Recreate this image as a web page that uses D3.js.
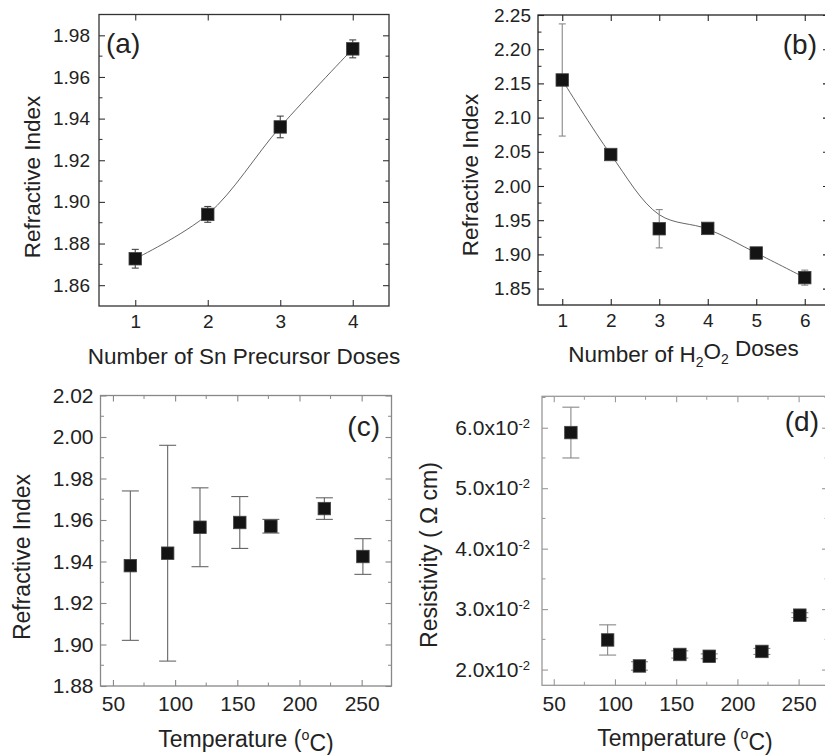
<!DOCTYPE html>
<html>
<head>
<meta charset="utf-8">
<script src="https://cdn.jsdelivr.net/npm/d3@7"></script>
<style>
  body { margin: 0; background: #fff; }
  svg { display: block; font-family: "Liberation Sans", Arial, sans-serif; }
  .axis path { display: none; }
  .axis text { fill: #222; }
</style>
</head>
<body>
<svg width="825" height="755"></svg>
<script>
// (a) refractive index vs Sn precursor doses
const snDoses = [1, 2, 3, 4];
const snIndex = [1.8727, 1.894, 1.936, 1.9735];
const snErr = [0.0045, 0.0038, 0.0052, 0.0043];
const snYTicks = [1.86, 1.88, 1.90, 1.92, 1.94, 1.96, 1.98];

// (b) refractive index vs H2O2 doses
const h2o2Doses = [1, 2, 3, 4, 5, 6];
const h2o2Index = [2.155, 2.046, 1.9375, 1.938, 1.902, 1.866];
const h2o2Err = [0.082, 0.004, 0.028, 0.003, 0.003, 0.011];
const h2o2Fit = [2.155, 2.046, 1.958, 1.937, 1.902, 1.866];
const h2o2YTicks = [1.85, 1.90, 1.95, 2.00, 2.05, 2.10, 2.15, 2.20, 2.25];

// (c) refractive index vs temperature
const tempC = [64, 94, 120, 152, 177, 220, 251];
const tempIndex = [1.938, 1.944, 1.9565, 1.9588, 1.957, 1.9655, 1.9424];
const tempIndexErr = [0.036, 0.052, 0.019, 0.0125, 0.0033, 0.0052, 0.0086];
const tempIndexYTicks = [1.88, 1.90, 1.92, 1.94, 1.96, 1.98, 2.00, 2.02];

// (d) resistivity vs temperature
const tempD = [64, 94, 120, 153, 177, 220, 251];
const resistivity = [0.0592, 0.0249, 0.0206, 0.0225, 0.0222, 0.0230, 0.0290];
const resistivityErr = [0.0042, 0.0025, 0.0007, 0.0006, 0.0004, 0.0005, 0.0004];
const resYTicks = [0.02, 0.03, 0.04, 0.05, 0.06];

const tempXTicks = [50, 100, 150, 200, 250];

const svg = d3.select("svg");

// midpoints between major ticks, plus one step beyond each end if inside the domain
const minorOf = (ticks, domain) => {
    const step = ticks[1] - ticks[0];
    const out = [];
    for (let v = ticks[0] - step / 2; v <= ticks[ticks.length - 1] + step / 2 + 1e-9; v += step) {
        if (v > domain[0] && v < domain[1]) out.push(v);
    }
    return out;
};

const drawPanel = (p) => {
    const x = d3.scaleLinear().domain(p.xDomain).range([p.left, p.right]);
    const y = d3.scaleLinear().domain(p.yDomain).range([p.bottom, p.top]);
    const g = svg.append("g");

    g.append("rect")
        .attr("x", p.left).attr("y", p.top)
        .attr("width", p.right - p.left).attr("height", p.bottom - p.top)
        .attr("fill", "none").attr("stroke", p.frame).attr("stroke-width", 1.3);

    const tickStyle = sel => sel.selectAll(".tick line").attr("stroke", p.frame).attr("stroke-width", 1.1);

    // major ticks with labels
    const xAx = g.append("g").attr("class", "axis")
        .attr("transform", "translate(0," + p.bottom + ")")
        .call(d3.axisBottom(x).tickValues(p.xTicks).tickSize(-6).tickPadding(p.xPad).tickFormat(d3.format("d")))
        .call(tickStyle);
    xAx.selectAll("text").attr("font-size", p.font + "px");

    const yAx = g.append("g").attr("class", "axis")
        .attr("transform", "translate(" + p.left + ",0)")
        .call(d3.axisLeft(y).tickValues(p.yTicks).tickSize(-6).tickPadding(p.yPad).tickFormat(p.yFormat))
        .call(tickStyle);
    yAx.selectAll("text").attr("font-size", p.font + "px");
    if (p.sup) {
        yAx.selectAll("text").append("tspan")
            .attr("dy", "-0.55em").attr("font-size", (p.font * 0.62) + "px").text(p.sup);
    }

    // mirrored ticks on top and right
    g.append("g").attr("class", "axis").attr("transform", "translate(0," + p.top + ")")
        .call(d3.axisTop(x).tickValues(p.xTicks).tickSize(-6).tickFormat(""))
        .call(tickStyle);
    g.append("g").attr("class", "axis").attr("transform", "translate(" + p.right + ",0)")
        .call(d3.axisRight(y).tickValues(p.yTicks).tickSize(-6).tickFormat(""))
        .call(tickStyle);

    // minor ticks
    const yMinor = minorOf(p.yTicks, p.yDomain);
    [[p.left, 1], [p.right, -1]].forEach(([x0, dir]) => {
        g.append("g").selectAll("line").data(yMinor).join("line")
            .attr("x1", x0).attr("x2", x0 + dir * 3.5)
            .attr("y1", d => y(d)).attr("y2", d => y(d))
            .attr("stroke", p.frame).attr("stroke-width", 1);
    });
    if (p.xMinor) {
        const xMinor = minorOf(p.xTicks, p.xDomain);
        [[p.bottom, -1], [p.top, 1]].forEach(([y0, dir]) => {
            g.append("g").selectAll("line").data(xMinor).join("line")
                .attr("y1", y0).attr("y2", y0 + dir * 3.5)
                .attr("x1", d => x(d)).attr("x2", d => x(d))
                .attr("stroke", p.frame).attr("stroke-width", 1);
        });
    }

    const pts = p.xs.map((v, i) => ({x: v, y: p.ys[i], e: p.errs[i]}));

    // fitted curve
    if (p.fit) {
        const line = d3.line().x(d => x(d.x)).y(d => y(d.y)).curve(d3.curveCatmullRom.alpha(0.5));
        g.append("path")
            .datum(p.xs.map((v, i) => ({x: v, y: p.fit[i]})))
            .attr("d", line)
            .attr("fill", "none").attr("stroke", "#555").attr("stroke-width", 0.9);
    }

    // error bars
    const eb = g.append("g").attr("stroke", p.errColor).attr("stroke-width", 1.1);
    eb.selectAll(".v").data(pts).join("line")
        .attr("x1", d => x(d.x)).attr("x2", d => x(d.x))
        .attr("y1", d => y(d.y - d.e)).attr("y2", d => y(d.y + d.e));
    eb.selectAll(".ct").data(pts).join("line").attr("class", "ct")
        .attr("x1", d => x(d.x) - p.cap / 2).attr("x2", d => x(d.x) + p.cap / 2)
        .attr("y1", d => y(d.y + d.e)).attr("y2", d => y(d.y + d.e));
    eb.selectAll(".cb").data(pts).join("line").attr("class", "cb")
        .attr("x1", d => x(d.x) - p.cap / 2).attr("x2", d => x(d.x) + p.cap / 2)
        .attr("y1", d => y(d.y - d.e)).attr("y2", d => y(d.y - d.e));

    // square markers
    const s = 12.5;
    g.append("g").selectAll("rect").data(pts).join("rect")
        .attr("x", d => x(d.x) - s / 2).attr("y", d => y(d.y) - s / 2)
        .attr("width", s).attr("height", s)
        .attr("fill", "#141414").attr("stroke", "#444").attr("stroke-width", 0.8);

    // panel label
    g.append("text")
        .attr("x", p.label[1]).attr("y", p.label[2])
        .attr("text-anchor", p.label[3])
        .attr("font-size", "28px").attr("fill", "#222")
        .text(p.label[0]);

    // axis titles
    const xt = g.append("text")
        .attr("x", (p.left + p.right) / 2).attr("y", p.xTitleY)
        .attr("text-anchor", "middle").attr("font-size", p.titleFont + "px").attr("fill", "#222");
    p.xTitle(xt);

    g.append("text")
        .attr("transform", "translate(" + p.yTitlePos[0] + "," + p.yTitlePos[1] + ") rotate(-90)")
        .attr("text-anchor", "middle").attr("font-size", p.titleFont + "px").attr("fill", "#222")
        .text(p.yTitle);
};

const tempTitle = t => {
    t.append("tspan").text("Temperature (");
    t.append("tspan").attr("dy", "-0.5em").attr("font-size", "0.62em").text("o");
    t.append("tspan").attr("dy", "0.5em").text("C)");
};

drawPanel({
    left: 99, right: 389, top: 14.5, bottom: 306,
    xDomain: [0.5, 4.5], yDomain: [1.85, 1.99],
    xTicks: snDoses, yTicks: snYTicks, xMinor: false,
    xs: snDoses, ys: snIndex, errs: snErr, fit: snIndex,
    yFormat: d3.format(".2f"), font: 19, xPad: 8.5, yPad: 9,
    frame: "#333", errColor: "#444", cap: 7,
    label: ["(a)", 106, 53, "start"],
    titleFont: 22.5, xTitleY: 364,
    xTitle: t => t.text("Number of Sn Precursor Doses"),
    yTitle: "Refractive Index", yTitlePos: [40, 177]
});

drawPanel({
    left: 538, right: 829, top: 15, bottom: 305,
    xDomain: [0.5, 6.5], yDomain: [1.826, 2.25],
    xTicks: h2o2Doses, yTicks: h2o2YTicks, xMinor: false,
    xs: h2o2Doses, ys: h2o2Index, errs: h2o2Err, fit: h2o2Fit,
    yFormat: d3.format(".2f"), font: 19, xPad: 8.5, yPad: 7,
    frame: "#222", errColor: "#888", cap: 7,
    label: ["(b)", 817, 54, "end"],
    titleFont: 22.5, xTitleY: 362,
    xTitle: t => {
        t.append("tspan").text("Number of H");
        t.append("tspan").attr("dy", "0.35em").attr("font-size", "0.62em").text("2");
        t.append("tspan").attr("dy", "-0.35em").text("O");
        t.append("tspan").attr("dy", "0.35em").attr("font-size", "0.62em").text("2");
        t.append("tspan").attr("dy", "-0.35em").text(" Doses");
    },
    yTitle: "Refractive Index", yTitlePos: [478, 175]
});

drawPanel({
    left: 100.5, right: 391.5, top: 395.5, bottom: 686,
    xDomain: [40, 274], yDomain: [1.88, 2.02],
    xTicks: tempXTicks, yTicks: tempIndexYTicks, xMinor: true,
    xs: tempC, ys: tempIndex, errs: tempIndexErr,
    yFormat: d3.format(".2f"), font: 21, xPad: 10.5, yPad: 7,
    frame: "#888", errColor: "#666", cap: 17,
    label: ["(c)", 380, 436, "end"],
    titleFont: 23, xTitleY: 747,
    xTitle: tempTitle,
    yTitle: "Refractive Index", yTitlePos: [30, 557]
});

drawPanel({
    left: 542, right: 828, top: 396.3, bottom: 685.3,
    xDomain: [40.4, 274], yDomain: [0.0174, 0.0652],
    xTicks: tempXTicks, yTicks: resYTicks, xMinor: true,
    xs: tempD, ys: resistivity, errs: resistivityErr,
    yFormat: d => (d * 100).toFixed(1) + "x10", sup: "-2", font: 21, xPad: 10.5, yPad: 12,
    frame: "#999", errColor: "#888", cap: 17,
    label: ["(d)", 819, 431, "end"],
    titleFont: 23, xTitleY: 746,
    xTitle: tempTitle,
    yTitle: "Resistivity ( \u03A9 cm)", yTitlePos: [437, 555]
});
</script>
</body>
</html>
